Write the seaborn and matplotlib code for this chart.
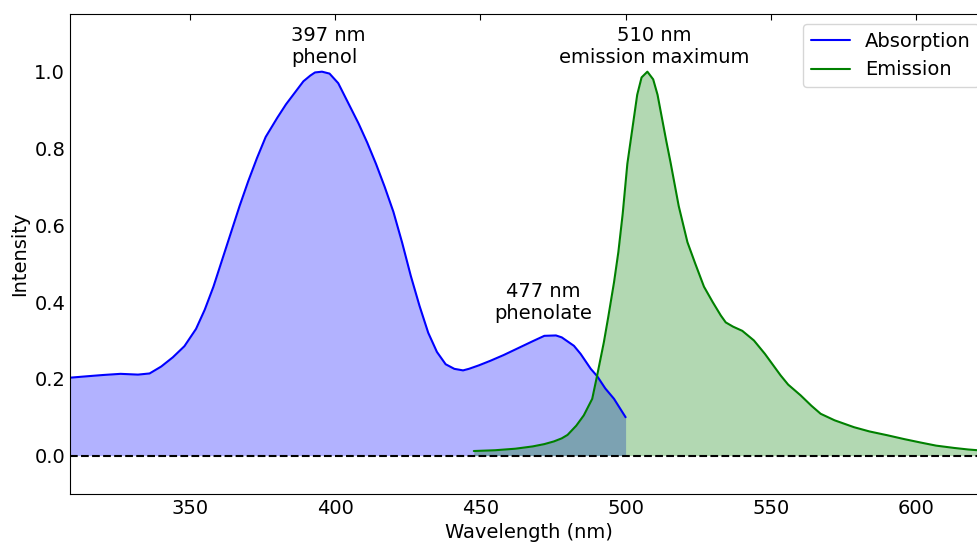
import pandas as pd
import matplotlib
matplotlib.use("Agg")
import matplotlib.pyplot as plt
import seaborn as sns

# Absorption spectrum
abs_wl = [308.6, 315, 320, 326, 332, 336, 340, 344, 348, 352, 355, 358, 361, 364,
          367, 370, 373, 376, 380, 383, 386, 389, 391.4, 393, 395.4, 398, 401,
          405, 408, 411, 414, 417, 420, 423, 426, 429, 432, 435, 438, 441, 444,
          446, 449.4, 453.4, 458, 463, 468, 472, 476, 478, 482.2, 484.5, 488,
          490.2, 493, 496, 500]
abs_int = [0.203, 0.207, 0.210, 0.213, 0.211, 0.214, 0.232, 0.256, 0.285, 0.330,
           0.380, 0.440, 0.510, 0.580, 0.650, 0.715, 0.775, 0.830, 0.880, 0.915,
           0.945, 0.975, 0.990, 0.998, 1.000, 0.995, 0.970, 0.910, 0.865, 0.815,
           0.760, 0.700, 0.635, 0.555, 0.468, 0.390, 0.320, 0.270, 0.238, 0.226,
           0.222, 0.226, 0.235, 0.247, 0.262, 0.280, 0.298, 0.312, 0.313, 0.308,
           0.286, 0.265, 0.226, 0.207, 0.175, 0.148, 0.100]

# Emission spectrum
em_wl = [447.7, 455, 462, 468, 472, 475.3, 478, 480, 483, 485.6, 488.5, 490.2,
         492.5, 494, 496, 497.5, 499, 500.6, 502.3, 504, 505.5, 507.5, 509.5,
         511, 512, 514, 515.5, 518.3, 521.3, 524, 527, 530, 532.8, 534.5, 537,
         540.2, 544.2, 548, 553.4, 556, 560.3, 564, 567.2, 572, 578.7, 584,
         590.2, 596, 601.7, 607, 613.2, 618, 621.3, 625]
em_int = [0.012, 0.014, 0.018, 0.024, 0.030, 0.037, 0.045, 0.054, 0.078, 0.105,
          0.148, 0.209, 0.295, 0.360, 0.451, 0.530, 0.630, 0.760, 0.850, 0.940,
          0.985, 1.000, 0.980, 0.940, 0.900, 0.820, 0.763, 0.650, 0.556, 0.500,
          0.440, 0.400, 0.365, 0.347, 0.336, 0.325, 0.300, 0.265, 0.209, 0.185,
          0.157, 0.130, 0.109, 0.092, 0.074, 0.063, 0.053, 0.043, 0.034, 0.026,
          0.020, 0.016, 0.014, 0.012]

df = pd.concat([
    pd.DataFrame({"Wavelength": abs_wl, "Intensity": abs_int, "Spectrum": "Absorption"}),
    pd.DataFrame({"Wavelength": em_wl, "Intensity": em_int, "Spectrum": "Emission"}),
])

sns.set_style("white")
plt.rcParams.update({
    "font.family": ["DejaVu Sans"],
    "font.size": 14,
    "axes.labelsize": 14,
    "xtick.labelsize": 14,
    "ytick.labelsize": 14,
    "legend.fontsize": 14,
    "text.color": "black",
    "axes.labelcolor": "black",
    "xtick.color": "black",
    "ytick.color": "black",
    "axes.edgecolor": "black",
    "axes.linewidth": 0.8,
})

fig = plt.figure(figsize=(9.77, 5.46), dpi=100)
# axes runs a little past the right edge, like the cropped reference
ax = fig.add_axes([0.0717, 0.0952, 0.94, 0.879])

colors = {"Absorption": "blue", "Emission": "green"}
sns.lineplot(data=df, x="Wavelength", y="Intensity", hue="Spectrum",
             palette=colors, lw=1.5, sort=False, estimator=None, ax=ax)

ax.fill_between(abs_wl, abs_int, color="blue", alpha=0.3, lw=0)
ax.fill_between(em_wl, em_int, color="green", alpha=0.3, lw=0)
ax.axhline(0, color="black", ls="--", lw=1.5)

ax.text(397.5, 1.012, "397 nm\nphenol", ha="center", va="bottom", ma="left")
ax.text(471.5, 0.345, "477 nm\nphenolate", ha="center", va="bottom", ma="center")
ax.text(510, 1.013, "510 nm\nemission maximum", ha="center", va="bottom", ma="center")

ax.set_xlim(308.6, 625)
ax.set_ylim(-0.1, 1.15)
ax.set_xticks([350, 400, 450, 500, 550, 600])
ax.set_yticks([0.0, 0.2, 0.4, 0.6, 0.8, 1.0])
ax.set_xlabel("Wavelength (nm)")
ax.set_ylabel("Intensity")
ax.tick_params(direction="in", top=True, right=True, length=4, width=0.8)

ax.legend(loc="upper right", frameon=True, edgecolor="0.8", fancybox=True,
          framealpha=0.8, title=None)

fig.savefig("out.png", dpi=100)
